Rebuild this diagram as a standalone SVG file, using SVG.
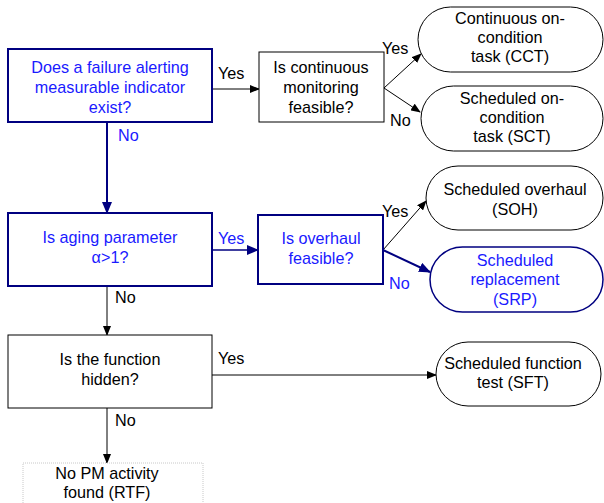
<svg xmlns="http://www.w3.org/2000/svg" width="604" height="503" viewBox="0 0 604 503">
  <defs>
    <marker id="ah" markerWidth="10" markerHeight="8" refX="9" refY="4" orient="auto" markerUnits="userSpaceOnUse">
      <path d="M0,0 L10,4 L0,8 Z" fill="#000"/>
    </marker>
    <marker id="ahb" markerWidth="12" markerHeight="10" refX="11" refY="5" orient="auto" markerUnits="userSpaceOnUse">
      <path d="M0,0 L12,5 L0,10 Z" fill="#000080"/>
    </marker>
  </defs>
  <style>
    text { font-family: "Liberation Sans", Arial, sans-serif; font-size: 16.2px; text-anchor: middle; }
    .lbl { text-anchor: start; }
    .k { fill: #000; }
    .b { fill: #1a1aff; }
    .box { fill: #fff; stroke: #000; stroke-width: 1; }
    .boxb { fill: #fff; stroke: #000080; stroke-width: 2; }
    .ln { stroke: #000; stroke-width: 1; fill: none; }
    .lnb { stroke: #000080; stroke-width: 2; fill: none; }
    .rtf { fill: #fff; stroke: #c8c8c8; stroke-width: 1; stroke-dasharray: 1 1; }
  </style>

  <!-- connectors -->
  <g id="connectors">
    <line class="ln" x1="212" y1="89" x2="259" y2="89" marker-end="url(#ah)"/>
    <line class="ln" x1="384" y1="88" x2="421" y2="54" marker-end="url(#ah)"/>
    <line class="ln" x1="384" y1="88" x2="420" y2="112" marker-end="url(#ah)"/>
    <line class="lnb" x1="107" y1="122" x2="107" y2="213" marker-end="url(#ahb)"/>
    <line class="lnb" x1="212" y1="250" x2="258" y2="250" style="stroke-width:1.5" marker-end="url(#ahb)"/>
    <line class="ln" x1="383" y1="250" x2="426" y2="201" marker-end="url(#ah)"/>
    <line class="lnb" x1="383" y1="250" x2="430" y2="272" marker-end="url(#ahb)"/>
    <line class="ln" x1="107" y1="286" x2="107" y2="335" marker-end="url(#ah)"/>
    <line class="ln" x1="212" y1="375" x2="436" y2="375" marker-end="url(#ah)"/>
    <line class="ln" x1="107" y1="408" x2="107" y2="463" marker-end="url(#ah)"/>
    <!-- branch labels -->
    <text class="lbl k" x="218" y="79">Yes</text>
    <text class="lbl b" x="118" y="141">No</text>
    <text class="lbl k" x="382" y="54">Yes</text>
    <text class="lbl k" x="390" y="126">No</text>
    <text class="lbl b" x="218" y="244">Yes</text>
    <text class="lbl k" x="382" y="217">Yes</text>
    <text class="lbl b" x="389" y="289">No</text>
    <text class="lbl k" x="115" y="303">No</text>
    <text class="lbl k" x="218" y="364">Yes</text>
    <text class="lbl k" x="115" y="426">No</text>
  </g>

  <g id="q-indicator">
    <rect class="boxb" x="8" y="49" width="204" height="73"/>
    <text class="b" x="110" y="73">Does a failure alerting</text>
    <text class="b" x="110" y="93">measurable indicator</text>
    <text class="b" x="110" y="113">exist?</text>
  </g>

  <g id="q-monitoring">
    <rect class="box" x="259" y="52" width="125" height="70"/>
    <text class="k" x="321" y="73">Is continuous</text>
    <text class="k" x="321" y="93">monitoring</text>
    <text class="k" x="321" y="113">feasible?</text>
  </g>

  <g id="cct">
    <rect class="box" x="418" y="7" width="185" height="65" rx="32.5"/>
    <text class="k" x="510" y="24">Continuous on-</text>
    <text class="k" x="510" y="43">condition</text>
    <text class="k" x="510" y="62">task (CCT)</text>
  </g>

  <g id="sct">
    <rect class="box" x="421" y="86" width="182" height="65" rx="32.5"/>
    <text class="k" x="512" y="104">Scheduled on-</text>
    <text class="k" x="512" y="123">condition</text>
    <text class="k" x="512" y="142">task (SCT)</text>
  </g>

  <g id="q-aging">
    <rect class="boxb" x="8" y="213" width="204" height="73"/>
    <text class="b" x="110" y="243">Is aging parameter</text>
    <text class="b" x="110" y="263">α&gt;1?</text>
  </g>

  <g id="q-overhaul">
    <rect class="boxb" x="258" y="215" width="125" height="69"/>
    <text class="b" x="321" y="244">Is overhaul</text>
    <text class="b" x="321" y="264">feasible?</text>
  </g>

  <g id="soh">
    <rect class="box" x="426" y="166" width="177" height="64" rx="32"/>
    <text class="k" x="515" y="195">Scheduled overhaul</text>
    <text class="k" x="515" y="215">(SOH)</text>
  </g>

  <g id="srp">
    <rect class="boxb" x="430" y="247" width="173" height="65" rx="32.5" style="stroke-width:1.5"/>
    <text class="b" x="515" y="266">Scheduled</text>
    <text class="b" x="515" y="285">replacement</text>
    <text class="b" x="515" y="305">(SRP)</text>
  </g>

  <g id="q-hidden">
    <rect class="box" x="8" y="335" width="204" height="73"/>
    <text class="k" x="110" y="365">Is the function</text>
    <text class="k" x="110" y="385">hidden?</text>
  </g>

  <g id="sft">
    <rect class="box" x="436" y="342" width="165" height="64" rx="32"/>
    <text class="k" x="513" y="369">Scheduled function</text>
    <text class="k" x="513" y="388">test (SFT)</text>
  </g>

  <g id="rtf">
    <rect class="rtf" x="23" y="463" width="180" height="45"/>
    <text class="k" x="107" y="479">No PM activity</text>
    <text class="k" x="107" y="498">found (RTF)</text>
  </g>
</svg>
